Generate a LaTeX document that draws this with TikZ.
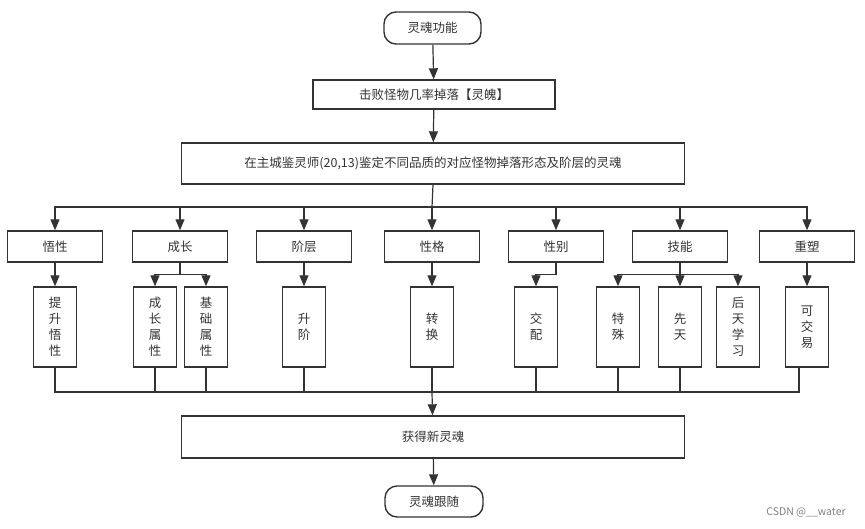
\documentclass[tikz,border=0pt]{standalone}
\usepackage{fontspec}
\newfontfamily\cjk{Noto Sans CJK SC}
\usetikzlibrary{arrows.meta}
\definecolor{ink}{HTML}{333333}

\begin{document}
\begin{tikzpicture}[x=1pt,y=-1pt,
  every node/.style={font=\cjk\fontsize{12.5}{16}\selectfont, text=ink},
  box/.style={draw=ink, line width=1.4pt, inner sep=0pt, align=center},
  terminal/.style={box, rounded corners=12pt, minimum width=97pt, minimum height=32pt},
  widebox/.style={box, minimum width=503pt, minimum height=41pt},
  itembox/.style={box, minimum width=95pt, minimum height=31pt},
  leafbox/.style={box, minimum width=43pt, minimum height=80pt},
  link/.style={draw=ink, line width=1.2pt},
  arr/.style={link, -{Triangle[width=9pt,length=11pt]}}]
\useasboundingbox (0,0) rectangle (865,528);
%\draw [help lines] (0,0) grid (865,528);
% Top part
\node [terminal] (start) at (432.5,28) {灵魂功能};
\node [box, minimum width=242pt, minimum height=29pt] (drop) at (434,94.5) {击败怪物几率掉落【灵魄】};
\node [widebox] (appraise) at (433,163.5) {在主城鉴灵师(20,13)鉴定不同品质的对应怪物掉落形态及阶层的灵魂};

% Attributes
\node [itembox] (wux) at (55,246.5) {悟性};
\node [itembox] (grow) at (180,246.5) {成长};
\node [itembox] (rank) at (304,246.5) {阶层};
\node [itembox] (nature) at (432,246.5) {性格};
\node [itembox] (gender) at (556,246.5) {性别};
\node [itembox] (skill) at (680,246.5) {技能};
\node [itembox] (remold) at (807,246.5) {重塑};

% What each attribute does
\node [leafbox] (wuxup) at (55,327) {提\\升\\悟\\性};
\node [leafbox] (growattr) at (155,327) {成\\长\\属\\性};
\node [leafbox] (baseattr) at (206,327) {基\\础\\属\\性};
\node [leafbox] (rankup) at (304,327) {升\\阶};
\node [leafbox] (swap) at (432,327) {转\\换};
\node [leafbox] (mate) at (536,327) {交\\配};
\node [leafbox] (special) at (618,327) {特\\殊};
\node [leafbox] (innate) at (680,327) {先\\天};
\node [leafbox] (learned) at (738,327) {后\\天\\学\\习};
\node [leafbox] (trade) at (807,327) {可\\交\\易};

% Bottom part
\node [widebox, minimum height=42pt] (result) at (433,437) {获得新灵魂};
\node [terminal, minimum width=98pt, minimum height=31pt] (end) at (434,501.5) {灵魂跟随};
\node [font=\cjk\fontsize{10.5}{12}\selectfont, text=gray] (mark) at (806,512) {CSDN @\_\_water};

% The links:
\coordinate (split) at (432,207);
\coordinate (merge) at (432,392);
\draw [arr] (start) -- (drop);
\draw [arr] (drop) -- (appraise);
\draw [link] (appraise.south) -- (split);
\draw [arr] (split) -| (wux.north);
\draw [arr] (split) -| (grow.north);
\draw [arr] (split) -| (rank.north);
\draw [arr] (split) -- (nature.north);
\draw [arr] (split) -| (gender.north);
\draw [arr] (split) -| (skill.north);
\draw [arr] (split) -| (remold.north);

% Attribute links
\draw [arr] (wux) -- (wuxup);
\draw [arr] (grow.south) -- ++(0,12) -| (growattr.north);
\draw [arr] (grow.south) -- ++(0,12) -| (baseattr.north);
\draw [arr] (rank) -- (rankup);
\draw [arr] (nature) -- (swap);
\draw [arr] (gender.south) -- ++(0,12) -| (mate.north);
\draw [arr] (skill.south) -- ++(0,12) -| (special.north);
\draw [arr] (skill) -- (innate);
\draw [arr] (skill.south) -- ++(0,12) -| (learned.north);
\draw [arr] (remold) -- (trade);

% Back together
\draw [link] (wuxup.south) |- (merge);
\draw [link] (growattr.south) |- (merge);
\draw [link] (baseattr.south) |- (merge);
\draw [link] (rankup.south) |- (merge);
\draw [link] (swap.south) -- (merge);
\draw [link] (mate.south) |- (merge);
\draw [link] (special.south) |- (merge);
\draw [link] (innate.south) |- (merge);
\draw [link] ([xshift=-8pt]trade.south) |- (merge);
\draw [arr] (merge) -- (result);
\draw [arr] (result) -- (end);
\end{tikzpicture}
\end{document}
